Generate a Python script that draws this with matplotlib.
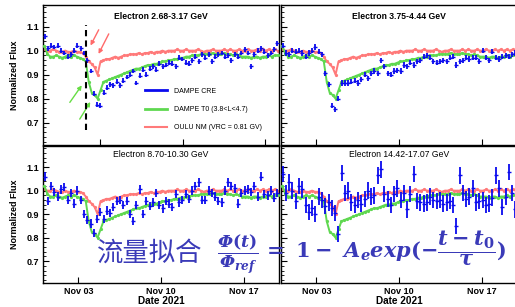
import numpy as np
import matplotlib
matplotlib.use('Agg')
import matplotlib.pyplot as plt
import matplotlib.dates as mdates
from matplotlib.lines import Line2D

plt.rcParams['font.family'] = ['Liberation Sans', 'DejaVu Sans']
plt.rcParams['mathtext.fontset'] = 'custom'
plt.rcParams['mathtext.rm'] = 'DejaVu Serif:bold'
plt.rcParams['mathtext.it'] = 'DejaVu Serif:italic:bold'
plt.rcParams['mathtext.bf'] = 'DejaVu Serif:bold'
plt.rcParams['mathtext.bfit'] = 'DejaVu Serif:italic:bold'

# time bins: DAMPE CRE in 400-minute bins, T0 / neutron monitor in 6 h bins
start = np.datetime64('2021-10-31T00:00')
end = np.datetime64('2021-11-20T00:00')
t_cre = start + np.timedelta64(200, 'm') + np.arange(72) * np.timedelta64(400, 'm')
t_ref = start + np.timedelta64(3, 'h') + np.arange(80) * np.timedelta64(6, 'h')

titles = ['Electron 2.68-3.17 GeV', 'Electron 3.75-4.44 GeV',
          'Electron 8.70-10.30 GeV', 'Electron 14.42-17.07 GeV']

cre_1 = [1.06, 1.01, 1.02, 1.015, 1.02, 1.00, 0.99, 0.975, 0.985, 1.0, 1.02, 1.01,
         0.99, 0.96, 0.915, 0.82, 0.775, 0.77, 0.825, 0.845, 0.86, 0.855, 0.87, 0.855,
         0.875, 0.89, 0.90, 0.915, 0.865, 0.895, 0.92, 0.90, 0.925, 0.935, 0.92, 0.945,
         0.935, 0.94, 0.95, 0.945, 0.935, 0.97, 0.965, 0.95, 0.945, 0.96, 0.975, 0.955,
         0.985, 0.97, 0.985, 0.955, 0.975, 0.985, 0.99, 0.975, 0.98, 0.96, 0.985, 0.975,
         0.99, 1.005, 0.99, 0.935, 0.985, 1.0, 1.01, 0.995, 0.98, 0.99, 1.005, 1.03]
cre_2 = [1.02, 0.99, 0.985, 1.0, 0.995, 1.0, 0.99, 0.975, 0.99, 1.0, 1.015, 0.995,
         0.985, 0.905, 0.86, 0.77, 0.755, 0.80, 0.865, 0.865, 0.865, 0.87, 0.875, 0.865,
         0.88, 0.90, 0.885, 0.905, 0.915, 0.905, 0.96, 0.935, 0.905, 0.90, 0.915, 0.918,
         0.915, 0.94, 0.935, 0.95, 0.94, 0.955, 0.96, 0.975, 0.98, 0.97, 0.955, 0.95,
         0.955, 0.96, 0.955, 0.97, 0.975, 0.94, 0.955, 0.96, 0.97, 0.965, 0.97, 0.97,
         0.955, 1.0, 0.97, 0.96, 0.995, 0.97, 0.965, 0.975, 0.98, 0.975, 0.985, 0.99]
cre_3 = [1.06, 0.955, 1.02, 0.995, 0.975, 1.005, 1.015, 0.96, 0.99, 0.945, 1.0, 0.96,
         0.90, 0.875, 0.86, 0.82, 0.88, 0.91, 0.88, 0.915, 0.905, 0.93, 0.955, 0.96,
         0.94, 0.955, 0.90, 0.87, 0.94, 1.005, 0.90, 0.955, 0.935, 0.95, 0.99, 0.94,
         0.925, 0.955, 0.945, 0.93, 0.985, 0.95, 0.96, 0.985, 0.965, 1.0, 1.02, 1.035,
         0.96, 0.96, 1.0, 0.99, 0.975, 0.955, 0.95, 1.0, 1.035, 1.02, 1.01, 0.945,
         0.99, 1.0, 1.005, 0.995, 1.02, 0.975, 1.06, 0.985, 0.98, 1.0, 0.97, 0.99]
cre_4 = [1.07, 0.99, 1.035, 1.0, 0.955, 1.02, 1.005, 0.94, 0.91, 0.925, 0.90, 0.975,
         0.96, 0.935, 0.95, 0.925, 0.905, 0.815, 1.075, 0.99, 1.0, 0.95, 0.94, 0.96,
         0.945, 0.965, 1.0, 0.975, 0.98, 1.065, 1.09, 0.985, 0.965, 0.94, 0.985, 1.01,
         0.96, 0.99, 0.92, 0.985, 1.07, 0.955, 0.95, 0.945, 0.95, 0.975, 0.96, 0.955,
         0.96, 0.945, 0.95, 0.955, 0.94, 0.85, 1.065, 0.99, 0.965, 0.975, 1.01, 0.95,
         0.955, 0.96, 0.94, 0.945, 0.97, 1.065, 1.01, 0.93, 0.975, 1.08, 0.99, 0.92]
cre_err = [0.01, 0.011, 0.018, 0.035]

t0_flux = [1.02, 0.985, 0.975, 0.975, 0.98, 0.975, 0.97, 0.975, 0.98, 0.975,
           0.98, 0.975, 0.97, 0.965, 0.955, 0.87, 0.825, 0.815, 0.80, 0.835,
           0.87, 0.875, 0.88, 0.885, 0.89, 0.895, 0.90, 0.905, 0.91, 0.915,
           0.92, 0.925, 0.925, 0.93, 0.935, 0.94, 0.94, 0.945, 0.945, 0.95,
           0.955, 0.955, 0.96, 0.96, 0.965, 0.965, 0.97, 0.97, 0.975, 0.975,
           0.98, 0.98, 0.98, 0.985, 0.985, 0.985, 0.985, 0.99, 0.985, 0.985,
           0.985, 0.99, 0.985, 0.985, 0.98, 0.985, 0.98, 0.975, 0.975, 0.975,
           0.97, 0.975, 0.975, 0.97, 0.975, 0.975, 0.98, 0.975, 0.98, 0.98]
oulu_flux = [1.005, 1.0, 1.0, 1.005, 1.0, 0.995, 0.995, 1.0, 0.995, 0.995,
             1.0, 0.995, 0.995, 0.99, 0.975, 0.955, 0.945, 0.93, 0.90, 0.955,
             0.96, 0.965, 0.965, 0.97, 0.975, 0.97, 0.975, 0.98, 0.98, 0.985,
             0.985, 0.985, 0.99, 0.985, 0.99, 0.99, 0.995, 0.99, 0.995, 0.995,
             1.0, 0.995, 1.0, 1.0, 1.0, 1.005, 1.0, 1.0, 1.005, 1.0,
             1.0, 1.0, 1.005, 1.0, 0.995, 1.0, 1.0, 1.005, 1.0, 1.0,
             1.0, 1.005, 1.0, 1.005, 1.0, 1.0, 1.005, 1.0, 1.0, 1.005,
             1.0, 1.0, 1.005, 1.0, 1.005, 1.0, 1.005, 1.0, 1.005, 1.0]

BLUE = '#0a0aee'
GREEN = '#5fd850'
RED = '#ff7a7a'
FORMULA = '#3a3ab8'

fig = plt.figure(figsize=(5.15, 3.07), dpi=100)
fig.patch.set_facecolor('white')

# axes boxes in pixels (left, top, right, bottom) -> figure fractions
W, H = 515.0, 307.0
boxes = [(43, 5, 279, 145), (281, 5, 517, 145), (43, 146, 279, 283), (281, 146, 517, 283)]
cre_all = [cre_1, cre_2, cre_3, cre_4]

axes = []
for i, (l, t, r, b) in enumerate(boxes):
    ax = fig.add_axes([l / W, 1 - b / H, (r - l) / W, (b - t) / H])
    axes.append(ax)
    ax.plot(t_ref, oulu_flux, color=RED, lw=1.4, marker='o', ms=1.3, zorder=2)
    ax.plot(t_ref, t0_flux, color=GREEN, lw=1.4, marker='o', ms=1.3, zorder=3)
    ax.errorbar(t_cre, cre_all[i], yerr=cre_err[i], fmt='_', ms=3, mew=1.0,
                color=BLUE, ecolor=BLUE, elinewidth=1.3, capsize=0, zorder=4)

    ax.set_xlim(start, end)
    ax.set_ylim(0.607, 1.19)
    ax.set_yticks([0.7, 0.8, 0.9, 1.0, 1.1])
    ax.set_yticks(np.arange(0.62, 1.19, 0.02), minor=True)
    if i == 0:
        # the first pad's time axis ticks sit about 1.8 days later
        ax.set_xticks(np.datetime64('2021-11-04T20:00') + np.arange(3) * np.timedelta64(7, 'D'))
    else:
        ax.xaxis.set_major_locator(mdates.DayLocator(bymonthday=[3, 10, 17]))
    ax.xaxis.set_major_formatter(mdates.DateFormatter('%b %d'))
    ax.tick_params(which='major', direction='in', length=4, width=0.8, labelsize=6.5, pad=3)
    ax.tick_params(which='minor', direction='in', length=2, width=0.6)
    for s in ax.spines.values():
        s.set_linewidth(1.0)
        s.set_color('black')

    top_row = i < 2
    ax.text(0.5, 0.92 if top_row else 0.935, titles[i], transform=ax.transAxes,
            ha='center', va='center', fontsize=6.2,
            fontweight='bold' if top_row else 'normal', zorder=6)

    if i % 2 == 0:
        ax.set_ylabel('Normalized Flux', fontsize=6.5, fontweight='bold', labelpad=5)
        for lab in ax.get_yticklabels():
            lab.set_fontweight('bold')
    else:
        ax.tick_params(axis='y', labelleft=False)
    if top_row:
        ax.tick_params(axis='x', labelbottom=False)
    else:
        ax.set_xlabel('Date 2021', fontsize=7.2, fontweight='bold', labelpad=0)
        for lab in ax.get_xticklabels():
            lab.set_fontweight('bold')

# Forbush decrease onset marker and arrows in the first panel
ax = axes[0]
onset = np.datetime64('2021-11-03T15:20')
ax.plot([onset, onset], [0.67, 1.105], color='black', lw=1.5, ls=(0, (3, 2)), zorder=5)

def day(d):
    return start + np.timedelta64(int(d * 1440), 'm')

for (x0, y0), (x1, y1), c in [((4.83, 1.097), (3.92, 1.011), '#ff6a6a'),
                               ((5.68, 1.080), (4.60, 0.976), '#ff6a6a'),
                               ((2.14, 0.775), (3.42, 0.865), '#66dd44'),
                               ((2.99, 0.705), (4.13, 0.796), '#66dd44')]:
    ax.annotate('', xy=(day(x1), y1), xytext=(day(x0), y0),
                arrowprops=dict(arrowstyle='-|>', color=c, lw=1.0, mutation_scale=6))

handles = [Line2D([], [], color=BLUE, lw=2),
           Line2D([], [], color=GREEN, lw=2),
           Line2D([], [], color=RED, lw=1.5)]
labels = ['DAMPE CRE', 'DAMPE T0 (3.8<L<4.7)', 'OULU NM (VRC = 0.81 GV)']
ax.legend(handles, labels, loc='upper left', bbox_to_anchor=(0.42, 0.43),
          frameon=False, fontsize=5, handlelength=3.2, labelspacing=1.65,
          handletextpad=1.0, borderaxespad=0)

# overlaid fit formula
fig.text(97 / W, 1 - 253 / H, '流量拟合', fontsize=19, color=FORMULA,
         family=['Noto Sans CJK SC', 'DejaVu Sans'], va='center', ha='left')
fig.text(217 / W, 1 - 254 / H, r'$\dfrac{\mathbfit{Φ}(t)}{\mathbfit{Φ}_{ref}}$',
         fontsize=12.5, color=FORMULA, va='center', ha='left')
fig.text(262 / W, 1 - 249 / H, r'$=\ 1-\ A_e exp(-\dfrac{t-t_0}{τ})$',
         fontsize=15, color=FORMULA, va='center', ha='left')

fig.savefig('out.png', dpi=100)
